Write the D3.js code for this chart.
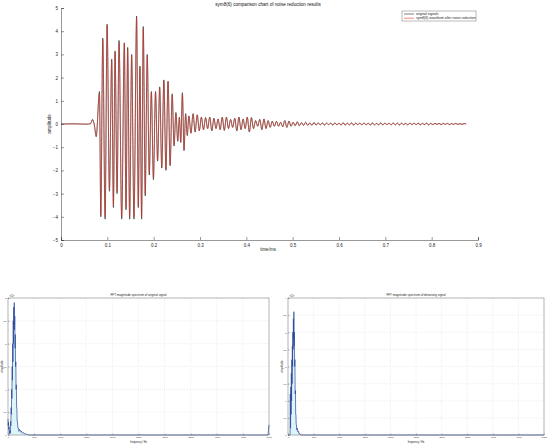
<!DOCTYPE html>
<html><head><meta charset="utf-8">
<script src="https://cdn.jsdelivr.net/npm/d3@7/dist/d3.min.js"></script>
<style>body{margin:0;background:#fff}svg{display:block;font-family:"Liberation Sans",Arial,sans-serif}</style>
</head><body><svg id="c" width="550" height="444"></svg>
<script>
// ---------- top chart data (extrema of waveform) ----------
const xTicksTop = [0,0.1,0.2,0.3,0.4,0.5,0.6,0.7,0.8,0.9];
const yTicksTop = [-5,-4,-3,-2,-1,0,1,2,3,4,5];
const legendLabels = ["original signals","sym8(6) waveform after noise reduction"];
const burstTime = [0.000,0.030,0.055,0.064,0.068,0.072,0.076,0.083,0.0859,0.0902,0.0952,0.0995,0.1045,0.1095,0.1131,0.1167,0.1210,0.1253,0.1310,0.1367,0.1403,0.1439,0.1482,0.1525,0.1575,0.1632,0.1668,0.1704,0.1740,0.1775,0.1818,0.1861,0.1905,0.1950,0.1995,0.2040,0.2085,0.2130,0.2175,0.2220,0.2265,0.2310,0.2355,0.2400,0.2440,0.2480,0.2520,0.2555,0.2585,0.2620,0.2655,0.2690,0.2725];
const burstOriginal = [0,0.01,-0.01,0.02,0.20,-0.05,-0.55,1.40,-4.00,3.70,-4.10,4.30,-2.90,2.80,-3.60,3.15,-3.00,3.60,-4.10,3.50,-3.70,3.30,-4.10,3.00,-4.10,4.65,-3.60,2.50,-4.10,4.20,-3.10,3.00,-2.20,1.40,-2.40,1.40,-1.60,1.60,-1.90,1.90,-2.00,1.85,-1.80,1.30,-0.95,0.50,-0.75,0.30,-0.80,1.35,-1.15,0.45,-0.50];
const burstDenoised = [0,0,0,0.01,0.17,-0.04,-0.50,1.30,-3.90,3.60,-4.00,4.25,-2.80,2.70,-3.50,3.10,-2.90,3.50,-4.00,3.45,-3.60,3.20,-4.00,2.95,-4.00,4.55,-3.50,2.45,-4.00,4.10,-3.00,2.90,-2.10,1.35,-2.30,1.35,-1.55,1.55,-1.85,1.85,-1.95,1.80,-1.75,1.25,-0.90,0.45,-0.70,0.28,-0.75,1.30,-1.10,0.40,-0.45];
const tailStart = 0.2760, tailStep = 0.0045;
const tailOriginal = [0.35,-0.40,0.45,-0.35,0.40,-0.30,
 0.30,-0.25,0.28,-0.20,0.30,-0.30,0.25,-0.20,0.22,-0.25,0.30,
 -0.28,0.30,-0.20,0.20,-0.15,0.25,-0.30,0.30,-0.25,0.22,-0.20,
 0.30,-0.35,0.28,-0.20,0.15,-0.10,0.20,-0.25,0.22,-0.20,0.15,
 -0.15,0.12,-0.10,0.12,-0.10,0.08,-0.12,0.15,-0.15,0.13,-0.10,
 0.08,-0.08,0.10,-0.08,0.06,-0.06,0.08,-0.06,0.05,-0.06,0.07,
 -0.05,0.05,-0.04,0.05,-0.05,0.04,-0.03,0.04,-0.05,0.05,-0.04,0.04,
 -0.05,0.06,-0.05,0.04,-0.04,0.05,-0.05,0.04,-0.03,0.04,-0.04,0.05,
 -0.04,0.04,-0.05,0.05,-0.04,0.03,-0.04,0.05,-0.04,0.04,-0.03,0.04,
 -0.04,0.05,-0.04,0.04,-0.05,0.04,-0.03,0.03,-0.04,0.04,-0.03,0.04,
 -0.03,0.04,-0.04,0.03,-0.03,0.04,-0.04,0.03,-0.03,0.03,-0.02,0.03,
 -0.03,0.03,-0.02,0.03,-0.03,0.02,-0.02,0.03,-0.02,0.02,-0.02,0.02,0.00];
const tailDenoised = [0.33,-0.38,0.42,-0.33,0.38,-0.28,
 0.28,-0.24,0.26,-0.19,0.28,-0.28,0.24,-0.19,0.21,-0.23,0.28,
 -0.26,0.28,-0.19,0.19,-0.14,0.23,-0.28,0.28,-0.23,0.21,-0.19,
 0.28,-0.33,0.26,-0.19,0.14,-0.09,0.19,-0.23,0.21,-0.19,0.14,
 -0.14,0.11,-0.09,0.11,-0.09,0.07,-0.11,0.14,-0.14,0.12,-0.09,
 0.07,-0.07,0.09,-0.07,0.05,-0.05,0.07,-0.05,0.04,-0.05,0.06,
 -0.04,0.04,-0.03,0.04,-0.04,0.03,-0.02,0.03,-0.04,0.04,-0.03,0.03,
 -0.04,0.05,-0.04,0.03,-0.03,0.04,-0.04,0.03,-0.02,0.03,-0.03,0.04,
 -0.03,0.03,-0.04,0.04,-0.03,0.02,-0.03,0.04,-0.03,0.03,-0.02,0.03,
 -0.03,0.04,-0.03,0.03,-0.04,0.03,-0.02,0.02,-0.03,0.03,-0.02,0.03,
 -0.02,0.03,-0.03,0.02,-0.02,0.03,-0.03,0.02,-0.02,0.02,-0.01,0.02,
 -0.02,0.02,-0.01,0.02,-0.02,0.01,-0.01,0.02,-0.01,0.01,-0.01,0.01,0.00];

// ---------- bottom spectra data (amplitude in units of 10^4) ----------
const freqTicks = [0,500,1000,1500,2000,2500,3000,3500,4000,4500,5000];
const ampTicksLeft = [0,0.5,1,1.5,2,2.5,3];
const ampTicksRight = [0,0.5,1,1.5,2,2.5,3,3.5,4];
const specFreqOrig = [0,5,10,15,20,25,30,35,40,45,50,55,60,65,70,75,80,85,90,95,100,105,110,115,120,125,130,135,140,145,150,155,160,165,170,175,180,190,200,210,220,230,240,250,260,280,300,320,340,360,380,400,450,1000,2000,3000,4000,4980,4990,5000];
const specAmpOrig = [0.35,0.20,0.28,0.12,0.18,0.05,0.08,0.02,0.10,0.05,0.30,0.20,0.60,0.45,1.00,0.80,1.50,1.20,2.00,1.60,2.50,2.00,2.80,2.40,2.90,2.30,2.60,1.90,2.20,1.50,1.60,1.00,1.10,0.60,0.60,0.30,0.30,0.15,0.15,0.08,0.12,0.10,0.10,0.06,0.08,0.04,0.05,0.02,0.03,0.01,0.01,0,0,0,0,0,0,0,0.10,0.22];
const specFreqDen = [0,40,45,50,55,60,65,70,75,80,85,90,95,100,105,110,115,120,125,130,135,140,145,150,155,160,165,170,180,190,200,210,220,230,240,250,1000,2000,3000,4000,5000];
const specAmpDen = [0,0,1.20,0.20,1.40,0.60,1.80,1.00,2.20,1.50,2.60,2.00,3.00,2.50,3.40,2.80,3.60,2.60,3.00,2.00,2.20,1.20,1.30,0.60,0.60,0.30,0.30,0.15,0.20,0.10,0.12,0.05,0.06,0.02,0.02,0,0,0,0,0,0];

const svg = d3.select("#c");
const axisCol = "#333";

// ---------- TOP CHART ----------
const xT = d3.scaleLinear().domain([0,0.9]).range([61,478]);
const yT = d3.scaleLinear().domain([-5,5]).range([240,8]);
const gTop = svg.append("g");
function buildSeries(bt,bv,tv){
  const pts = bt.map((t,i)=>[t,bv[i]]);
  tv.forEach((v,i)=>pts.push([tailStart+i*tailStep, v]));
  return pts;
}
const seriesO = buildSeries(burstTime,burstOriginal,tailOriginal);
const seriesD = buildSeries(burstTime,burstDenoised,tailDenoised);
const lineT = d3.line().x(d=>xT(d[0])).y(d=>yT(d[1])).curve(d3.curveMonotoneX);
gTop.append("path").attr("d",lineT(seriesO)).attr("fill","none").attr("stroke","#2e2a22").attr("stroke-width",0.7);
gTop.append("path").attr("d",lineT(seriesD)).attr("fill","none").attr("stroke","#e3332b").attr("stroke-width",0.5);

const axB = gTop.append("g").attr("transform","translate(0,240)")
  .call(d3.axisBottom(xT).tickValues(xTicksTop).tickSize(-3).tickPadding(4).tickFormat(d3.format("~g")));
const axL = gTop.append("g").attr("transform","translate(61,0)")
  .call(d3.axisLeft(yT).tickValues(yTicksTop).tickSize(-3).tickPadding(3).tickFormat(d3.format("~g")));
[axB,axL].forEach(a=>{a.selectAll("path,line").attr("stroke",axisCol).attr("stroke-width",0.5);
  a.selectAll("text").attr("font-size",4.5).attr("fill","#262626").attr("font-family","Liberation Sans, Arial, sans-serif");});
gTop.append("text").attr("x",268).attr("y",5.5).attr("text-anchor","middle").attr("font-size",4.6).attr("fill","#111").text("sym8(6) comparison chart of noise reduction results");
gTop.append("text").attr("x",268).attr("y",251).attr("text-anchor","middle").attr("font-size",4.5).attr("fill","#222").text("time/ms");
gTop.append("text").attr("transform","translate(51,124) rotate(-90)").attr("text-anchor","middle").attr("font-size",4.5).attr("fill","#222").text("amplitude");
// legend
const lg = gTop.append("g");
lg.append("rect").attr("x",402).attr("y",11).attr("width",74).attr("height",10).attr("fill","#fff").attr("stroke","#555").attr("stroke-width",0.4);
const legCols = ["#2e2a22","#e3332b"];
legendLabels.forEach((l,i)=>{
  const yy = 14 + i*4.2;
  lg.append("line").attr("x1",404).attr("x2",414).attr("y1",yy).attr("y2",yy).attr("stroke",legCols[i]).attr("stroke-width",0.6);
  lg.append("text").attr("x",416).attr("y",yy+1.2).attr("font-size",3.4).attr("fill","#222").text(l);
});

// ---------- BOTTOM SPECTRA ----------
function spectrum(x0,x1,yTicks,freqs,amps,title){
  const g = svg.append("g");
  const top=298, bot=435;
  const x = d3.scaleLinear().domain([0,5000]).range([x0,x1]);
  const y = d3.scaleLinear().domain([0,yTicks[yTicks.length-1]]).range([bot,top]);
  g.selectAll(".gx").data(freqTicks).join("line").attr("x1",d=>x(d)).attr("x2",d=>x(d)).attr("y1",top).attr("y2",bot)
    .attr("stroke","#d6d6d6").attr("stroke-width",0.4).attr("stroke-dasharray","1,1");
  g.selectAll(".gy").data(yTicks).join("line").attr("x1",x0).attr("x2",x1).attr("y1",d=>y(d)).attr("y2",d=>y(d))
    .attr("stroke","#d6d6d6").attr("stroke-width",0.4).attr("stroke-dasharray","1,1");
  const pts = freqs.map((f,i)=>[f,amps[i]]);
  g.append("path").attr("d",d3.area().x(d=>x(d[0])).y0(bot).y1(d=>y(d[1]))(pts)).attr("fill","#c6edf5").attr("opacity",0.6);
  g.append("path").attr("d",d3.line().x(d=>x(d[0])).y(d=>y(d[1]))(pts)).attr("fill","none").attr("stroke","#27479b").attr("stroke-width",0.7);
  g.append("rect").attr("x",x0).attr("y",top).attr("width",x1-x0).attr("height",bot-top).attr("fill","none").attr("stroke","#555").attr("stroke-width",0.4);
  const ab = g.append("g").attr("transform",`translate(0,${bot})`).call(d3.axisBottom(x).tickValues(freqTicks).tickSize(-1.5).tickPadding(1.5).tickFormat(d3.format("d")));
  const al = g.append("g").attr("transform",`translate(${x0},0)`).call(d3.axisLeft(y).tickValues(yTicks).tickSize(-1.5).tickPadding(1.5).tickFormat(d3.format("~g")));
  [ab,al].forEach(a=>{a.select(".domain").remove();a.selectAll("line").attr("stroke","#555").attr("stroke-width",0.4);
    a.selectAll("text").attr("font-size",2.4).attr("fill","#333").attr("font-family","Liberation Sans, Arial, sans-serif");});
  g.append("text").attr("x",x0+1).attr("y",top-1.5).attr("font-size",2.6).attr("fill","#333").text("×10").append("tspan").attr("dy",-1).attr("font-size",2).text("4");
  g.append("text").attr("x",(x0+x1)/2).attr("y",top-2).attr("text-anchor","middle").attr("font-size",3).attr("fill","#222").text(title);
  g.append("text").attr("x",(x0+x1)/2).attr("y",bot+7.6).attr("text-anchor","middle").attr("font-size",2.6).attr("fill","#222").text("frequency / Hz");
  g.append("text").attr("transform",`translate(${x0-5},${(top+bot)/2}) rotate(-90)`).attr("text-anchor","middle").attr("font-size",2.8).attr("fill","#222").text("amplitude");
}
spectrum(8,269,ampTicksLeft,specFreqOrig,specAmpOrig,"FFT magnitude spectrum of original signal");
spectrum(288,544,ampTicksRight,specFreqDen,specAmpDen,"FFT magnitude spectrum of denoising signal");
</script></body></html>
